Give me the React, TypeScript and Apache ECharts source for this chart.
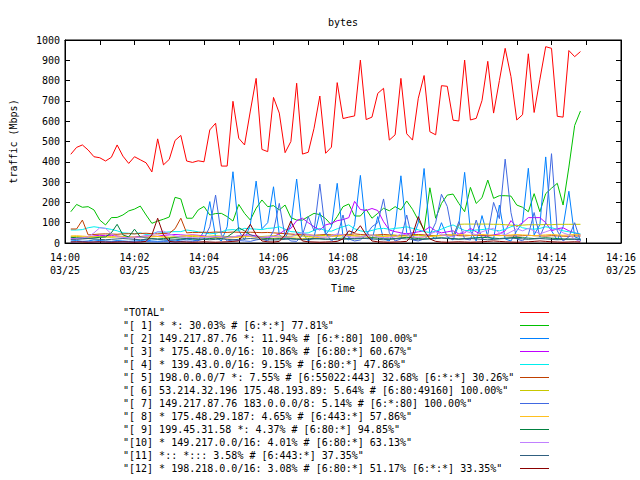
import React, { useEffect, useRef } from "react";
import * as echarts from "echarts";

// sampling: first sample at 14:00:10, one sample every 10 s (seconds after 14:00)
const startSec = 10;
const stepSec = 10;
const hourLabel = "14";
const dateLabel = "03/25";
const yTicks = { min: 0, max: 1000, step: 100 };
const xTicks = { min: 0, max: 960, step: 60 };

const seriesNames = [
  '"TOTAL"',
  '"[ 1] * *: 30.03% # [6:*:*] 77.81%"',
  '"[ 2] 149.217.87.76 *: 11.94% # [6:*:80] 100.00%"',
  '"[ 3] * 175.48.0.0/16: 10.86% # [6:80:*] 60.67%"',
  '"[ 4] * 139.43.0.0/16: 9.15% # [6:80:*] 47.86%"',
  '"[ 5] 198.0.0.0/7 *: 7.55% # [6:55022:443] 32.68% [6:*:*] 30.26%"',
  '"[ 6] 53.214.32.196 175.48.193.89: 5.64% # [6:80:49160] 100.00%"',
  '"[ 7] 149.217.87.76 183.0.0.0/8: 5.14% # [6:*:80] 100.00%"',
  '"[ 8] * 175.48.29.187: 4.65% # [6:443:*] 57.86%"',
  '"[ 9] 199.45.31.58 *: 4.37% # [6:80:*] 94.85%"',
  '"[10] * 149.217.0.0/16: 4.01% # [6:80:*] 63.13%"',
  '"[11] *:: *::: 3.58% # [6:443:*] 37.35%"',
  '"[12] * 198.218.0.0/16: 3.08% # [6:80:*] 51.17% [6:*:*] 33.35%"',
];

const seriesColors = [
  "#ff0000", "#00c000", "#0080ff", "#c000ff", "#00eeee", "#c04000", "#c8c800",
  "#4169e1", "#ffc020", "#008040", "#c080ff", "#306080", "#8b0000",
];

const total = [
  437, 471, 483, 458, 425, 420, 404, 422, 483, 428,
  392, 425, 410, 395, 350, 513, 385, 412, 505, 530,
  404, 397, 405, 400, 557, 590, 379, 379, 698, 516,
  483, 650, 811, 461, 450, 717, 640, 445, 500, 787,
  438, 447, 565, 724, 442, 472, 790, 613, 620, 626,
  901, 608, 620, 737, 762, 507, 533, 811, 538, 507,
  713, 825, 548, 533, 775, 772, 605, 601, 901, 606,
  614, 702, 895, 640, 800, 959, 820, 606, 632, 932,
  643, 807, 967, 959, 624, 620, 948, 918, 943,
];
const s1 = [
  154, 190, 176, 179, 163, 113, 89, 125, 126, 138,
  158, 167, 182, 138, 97, 108, 117, 128, 225, 217,
  122, 122, 163, 180, 138, 145, 146, 130, 108, 190,
  146, 113, 171, 212, 179, 184, 163, 187, 125, 113,
  113, 130, 146, 140, 120, 89, 130, 179, 192, 133,
  133, 166, 122, 146, 171, 159, 179, 163, 207, 166,
  113, 66, 272, 122, 195, 236, 241, 195, 154, 274,
  195, 223, 310, 220, 233, 233, 231, 187, 176, 154,
  243, 154, 243, 270, 294, 187, 374, 579, 650,
];
const s2 = [
  10, 12, 8, 10, 15, 12, 10, 8, 12, 10,
  8, 10, 12, 15, 10, 8, 10, 12, 10, 15,
  20, 15, 10, 60, 204, 30, 10, 80, 351, 60,
  15, 90, 305, 70, 100, 277, 40, 20, 90, 315,
  50, 10, 30, 150, 40, 80, 294, 30, 15, 90,
  333, 60, 15, 130, 20, 10, 80, 331, 50, 15,
  100, 367, 40, 20, 100, 30, 15, 90, 348, 60,
  10, 135, 30, 20, 187, 20, 10, 60, 100, 368,
  40, 90, 424, 60, 15, 80, 255, 30, 20,
];
const s3 = [
  20, 22, 25, 30, 35, 38, 36, 38, 35, 30,
  28, 30, 32, 35, 34, 33, 38, 40, 42, 40,
  38, 40, 38, 35, 30, 28, 30, 32, 30, 35,
  38, 40, 35, 30, 28, 32, 45, 64, 72, 110,
  122, 100, 80, 64, 89, 97, 110, 115, 125, 205,
  165, 160, 170, 160, 105, 64, 56, 50, 45, 50,
  55, 60, 80, 60, 50, 55, 60, 45, 50, 72,
  55, 40, 35, 40, 45, 60, 110, 80, 100, 125,
  125, 125, 100, 60, 70, 75, 60, 50, 40,
];
const s4 = [
  64, 64, 66, 75, 80, 76, 72, 67, 60, 50,
  48, 45, 50, 42, 45, 55, 52, 55, 56, 56,
  64, 60, 55, 50, 45, 48, 55, 64, 66, 62,
  72, 70, 68, 66, 72, 74, 80, 68, 56, 54,
  48, 50, 62, 72, 60, 58, 70, 80, 89, 70,
  60, 55, 62, 70, 72, 68, 72, 75, 80, 72,
  65, 56, 52, 58, 68, 80, 89, 75, 62, 60,
  64, 66, 70, 64, 60, 68, 80, 89, 75, 70,
  68, 72, 80, 75, 68, 60, 55, 50, 45,
];
const s5 = [
  69, 69, 113, 40, 42, 44, 45, 44, 43, 45,
  46, 45, 47, 48, 46, 45, 47, 48, 70, 122,
  50, 52, 52, 53, 52, 54, 53, 52, 54, 53,
  52, 53, 52, 51, 52, 50, 48, 46, 44, 42,
  40, 40, 38, 40, 42, 40, 38, 40, 42, 45,
  42, 40, 38, 40, 42, 40, 38, 36, 38, 40,
  42, 40, 38, 36, 38, 40, 38, 36, 35, 37,
  38, 36, 35, 37, 38, 36, 35, 34, 36, 38,
  36, 35, 34, 36, 35, 34, 33, 35, 34,
];
const s6 = [
  30, 32, 30, 28, 30, 32, 30, 28, 30, 32,
  30, 28, 30, 32, 34, 32, 30, 28, 30, 32,
  34, 32, 30, 32, 34, 36, 34, 32, 30, 32,
  34, 32, 30, 32, 34, 36, 34, 32, 34, 36,
  34, 32, 34, 36, 38, 36, 34, 36, 38, 36,
  34, 36, 38, 36, 34, 36, 38, 36, 35, 36,
  38, 36, 34, 36, 38, 36, 40, 92, 93, 93,
  93, 93, 93, 92, 92, 90, 88, 85, 88, 90,
  90, 90, 91, 90, 92, 92, 92, 92, 92,
];
const s7 = [
  5, 5, 8, 6, 5, 7, 5, 6, 8, 5,
  6, 5, 7, 8, 6, 5, 7, 6, 5, 8,
  10, 8, 12, 20, 80, 236, 40, 10, 15, 12,
  10, 8, 15, 20, 10, 60, 195, 30, 10, 8,
  40, 130, 60, 290, 50, 10, 30, 138, 20, 10,
  15, 40, 80, 100, 217, 50, 10, 20, 138, 15,
  10, 20, 40, 100, 240, 180, 30, 105, 20, 15,
  113, 20, 40, 200, 120, 413, 150, 20, 10, 40,
  150, 30, 100, 440, 60, 10, 30, 100, 10,
];
const s8 = [
  35, 36, 34, 32, 30, 28, 30, 32, 34, 33,
  30, 28, 26, 28, 30, 32, 30, 28, 30, 34,
  36, 38, 35, 32, 30, 28, 26, 24, 26, 28,
  30, 32, 28, 24, 22, 24, 26, 28, 26, 24,
  22, 24, 26, 28, 30, 32, 35, 38, 36, 34,
  32, 30, 28, 30, 32, 34, 32, 30, 28, 26,
  28, 30, 32, 34, 36, 38, 40, 42, 40, 38,
  40, 42, 40, 38, 36, 38, 40, 42, 40, 38,
  36, 38, 40, 42, 40, 38, 40, 42, 40,
];
const s9 = [
  28, 26, 24, 22, 25, 28, 30, 50, 92, 40,
  30, 68, 30, 25, 22, 20, 22, 24, 26, 24,
  22, 20, 18, 20, 22, 24, 22, 30, 50, 75,
  60, 40, 30, 25, 22, 20, 22, 24, 22, 20,
  18, 20, 22, 20, 18, 20, 22, 24, 22, 20,
  22, 24, 26, 24, 22, 20, 22, 25, 28, 25,
  22, 20, 22, 24, 26, 24, 22, 20, 22, 24,
  26, 28, 26, 24, 22, 24, 26, 28, 26, 24,
  22, 24, 26, 24, 22, 20, 18, 20, 18,
];
const s10 = [
  20, 22, 25, 30, 50, 75, 72, 45, 30, 28,
  26, 25, 28, 30, 40, 55, 58, 45, 35, 30,
  28, 26, 25, 28, 30, 32, 30, 28, 30, 35,
  40, 35, 30, 28, 30, 32, 30, 28, 30, 45,
  50, 40, 35, 30, 28, 35, 45, 40, 30, 28,
  30, 35, 40, 30, 25, 28, 30, 45, 40, 30,
  28, 30, 45, 55, 40, 35, 30, 45, 60, 50,
  40, 55, 65, 72, 50, 40, 55, 70, 60, 72,
  60, 45, 55, 65, 70, 50, 40, 20, 5,
];
const s11 = [
  18, 18, 20, 22, 20, 18, 16, 18, 20, 22,
  20, 18, 16, 18, 20, 18, 16, 15, 16, 18,
  20, 22, 20, 18, 16, 18, 20, 18, 16, 18,
  20, 22, 20, 18, 16, 15, 16, 18, 20, 18,
  16, 18, 20, 22, 20, 18, 16, 18, 20, 22,
  24, 22, 20, 18, 16, 18, 20, 22, 20, 18,
  16, 18, 20, 22, 24, 22, 20, 18, 20, 22,
  20, 18, 16, 18, 20, 22, 24, 22, 20, 18,
  20, 22, 20, 18, 16, 18, 20, 18, 16,
];
const s12 = [
  5, 6, 5, 4, 5, 6, 5, 4, 5, 6,
  5, 4, 5, 8, 40, 122, 40, 8, 5, 6,
  5, 4, 5, 6, 5, 4, 5, 6, 8, 10,
  50, 92, 40, 10, 6, 5, 8, 40, 108, 50,
  10, 6, 5, 4, 5, 6, 8, 20, 60, 50,
  85, 40, 10, 6, 5, 4, 5, 6, 8, 40,
  130, 60, 20, 8, 5, 4, 5, 6, 5, 4,
  5, 6, 8, 10, 8, 6, 5, 4, 5, 6,
  8, 10, 8, 6, 5, 4, 5, 6, 5,
];

const seriesValues = [total, s1, s2, s3, s4, s5, s6, s7, s8, s9, s10, s11, s12];

const FONT = "'DejaVu Sans Mono', 'Liberation Mono', monospace";

export default function App() {
  const ref = useRef<HTMLDivElement>(null);
  useEffect(() => {
    if (!ref.current) return;
    const chart = echarts.init(ref.current, undefined, { renderer: "svg" });
    const axisCommon = {
      type: "value" as const,
      axisLine: { show: true, onZero: false, lineStyle: { color: "#000", width: 1 } },
      axisTick: { show: true, inside: true, length: 5, lineStyle: { color: "#000" } },
      splitLine: { show: false },
    };
    const xFormatter = (v: number) => {
      if (v % 120 !== 0) return "";
      const m = Math.round(v / 60);
      return `${hourLabel}:${m < 10 ? "0" + m : m}\n${dateLabel}`;
    };
    chart.setOption({
      animation: false,
      backgroundColor: "#fff",
      textStyle: { fontFamily: FONT, fontSize: 10, color: "#000" },
      title: {
        text: "bytes",
        left: 338,
        top: 12,
        textAlign: "center",
        textStyle: { fontFamily: FONT, fontSize: 10, fontWeight: "normal", color: "#000" },
      },
      grid: {
        left: 58,
        right: 19,
        top: 40,
        bottom: 237,
        show: true,
        borderColor: "#000",
        borderWidth: 1,
        backgroundColor: "transparent",
      },
      xAxis: [
        {
          ...axisCommon,
          min: xTicks.min,
          max: xTicks.max,
          interval: xTicks.step,
          position: "bottom",
          name: "Time",
          nameLocation: "middle",
          nameGap: 40,
          nameTextStyle: { fontFamily: FONT, fontSize: 10, color: "#000" },
          axisLabel: {
            show: true,
            formatter: xFormatter,
            margin: 8,
            lineHeight: 13,
            fontFamily: FONT,
            fontSize: 10,
            color: "#000",
            showMinLabel: true,
            showMaxLabel: true,
            hideOverlap: false,
          },
        },
        {
          ...axisCommon,
          min: xTicks.min,
          max: xTicks.max,
          interval: xTicks.step,
          position: "top",
          axisLabel: { show: false },
        },
      ],
      yAxis: [
        {
          ...axisCommon,
          min: yTicks.min,
          max: yTicks.max,
          interval: yTicks.step,
          position: "left",
          name: "traffic (Mbps)",
          nameLocation: "middle",
          nameGap: 47,
          nameRotate: 90,
          nameTextStyle: { fontFamily: FONT, fontSize: 10, color: "#000" },
          axisLabel: {
            show: true,
            margin: 5,
            formatter: (v: number) => String(v),
            fontFamily: FONT,
            fontSize: 10,
            color: "#000",
          },
        },
        {
          ...axisCommon,
          min: yTicks.min,
          max: yTicks.max,
          interval: yTicks.step,
          position: "right",
          axisLabel: { show: false },
        },
      ],
      legend: {
        orient: "vertical",
        left: 123,
        top: 306,
        padding: 0,
        itemGap: 0,
        itemWidth: 29,
        itemHeight: 13,
        align: "right",
        icon: "path://M0,0H29V1H0Z",
        selectedMode: false,
        inactiveColor: "#000",
        data: seriesNames,
        formatter: "{a|{name}}",
        textStyle: {
          fontFamily: FONT,
          fontSize: 10,
          lineHeight: 13,
          height: 13,
          color: "#000",
          textBorderWidth: 0,
          rich: {
            a: {
              width: 392,
              height: 13,
              align: "left",
              fontFamily: FONT,
              fontSize: 10,
              lineHeight: 13,
              color: "#000",
              textBorderWidth: 0,
            },
          },
        },
      },
      series: seriesNames.map((name, k) => ({
        name,
        type: "line",
        xAxisIndex: 0,
        yAxisIndex: 0,
        symbol: "none",
        showSymbol: false,
        silent: true,
        color: seriesColors[k],
        lineStyle: { width: 1, color: seriesColors[k] },
        data: seriesValues[k].map((v, i) => [startSec + i * stepSec, v]),
      })),
    });
    return () => chart.dispose();
  }, []);
  return (
    <div
      ref={ref}
      style={{ position: "fixed", left: 0, top: 0, width: 640, height: 480, background: "#fff" }}
    />
  );
}
